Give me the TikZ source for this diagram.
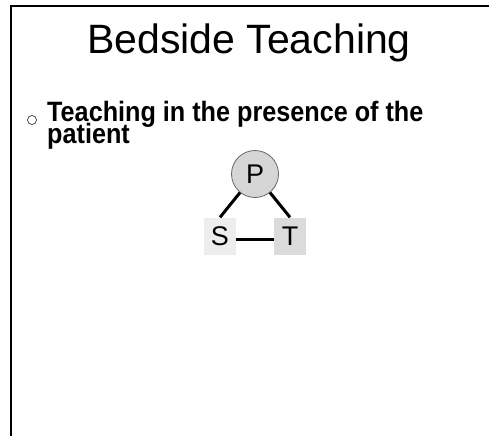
\documentclass[tikz,border=0pt]{standalone}
\usepackage{fontspec}
\setmainfont{Liberation Sans}
\usepackage{graphicx}
\begin{document}
\begin{tikzpicture}[x=1pt,y=-1pt,
  frame/.style={line width=2pt,black},
  conn/.style={line width=3pt,black},
  lbl/.style={font=\fontsize{27}{27}\selectfont},
  boxS/.style={lbl,fill=black!7,minimum width=32pt,minimum height=37pt,inner sep=0pt},
  boxT/.style={lbl,fill=black!14,minimum width=32pt,minimum height=37pt,inner sep=0pt},
  pers/.style={lbl,circle,fill=black!16,draw=black!60,line width=0.8pt,minimum size=47pt,inner sep=0pt},
  btext/.style={anchor=base west,inner sep=0pt,font=\bfseries\fontsize{28}{28}\selectfont}]
\useasboundingbox (0,0) rectangle (489,436);
\coordinate (tl) at (11,6);
\coordinate (tr) at (489,6);
\coordinate (bl) at (11,436);
\draw[frame] (tr) -- (tl) -- (bl);
\node[anchor=base,inner sep=0pt,font=\fontsize{41}{41}\selectfont] (title) at (249,53) {Bedside Teaching};
\node[circle,draw,line width=0.5pt,minimum size=9pt,inner sep=0pt] (bul) at (32,120) {};
\node[btext] (l1) at (47,121) {\scalebox{0.9}[1]{Teaching in the presence of the}};
\node[btext] (l2) at (47,143) {\scalebox{0.9}[1]{patient}};
\node[pers] (P) at (255,174) {P};
\node[boxS] (S) at (220,236) {S};
\node[boxT] (T) at (290,236) {T};
\draw[conn] (P) -- (S.north);
\draw[conn] (P) -- (T.north);
\draw[conn] (S.east) ++(0,3) coordinate (se) -- (se -| T.west);
\end{tikzpicture}
\end{document}
